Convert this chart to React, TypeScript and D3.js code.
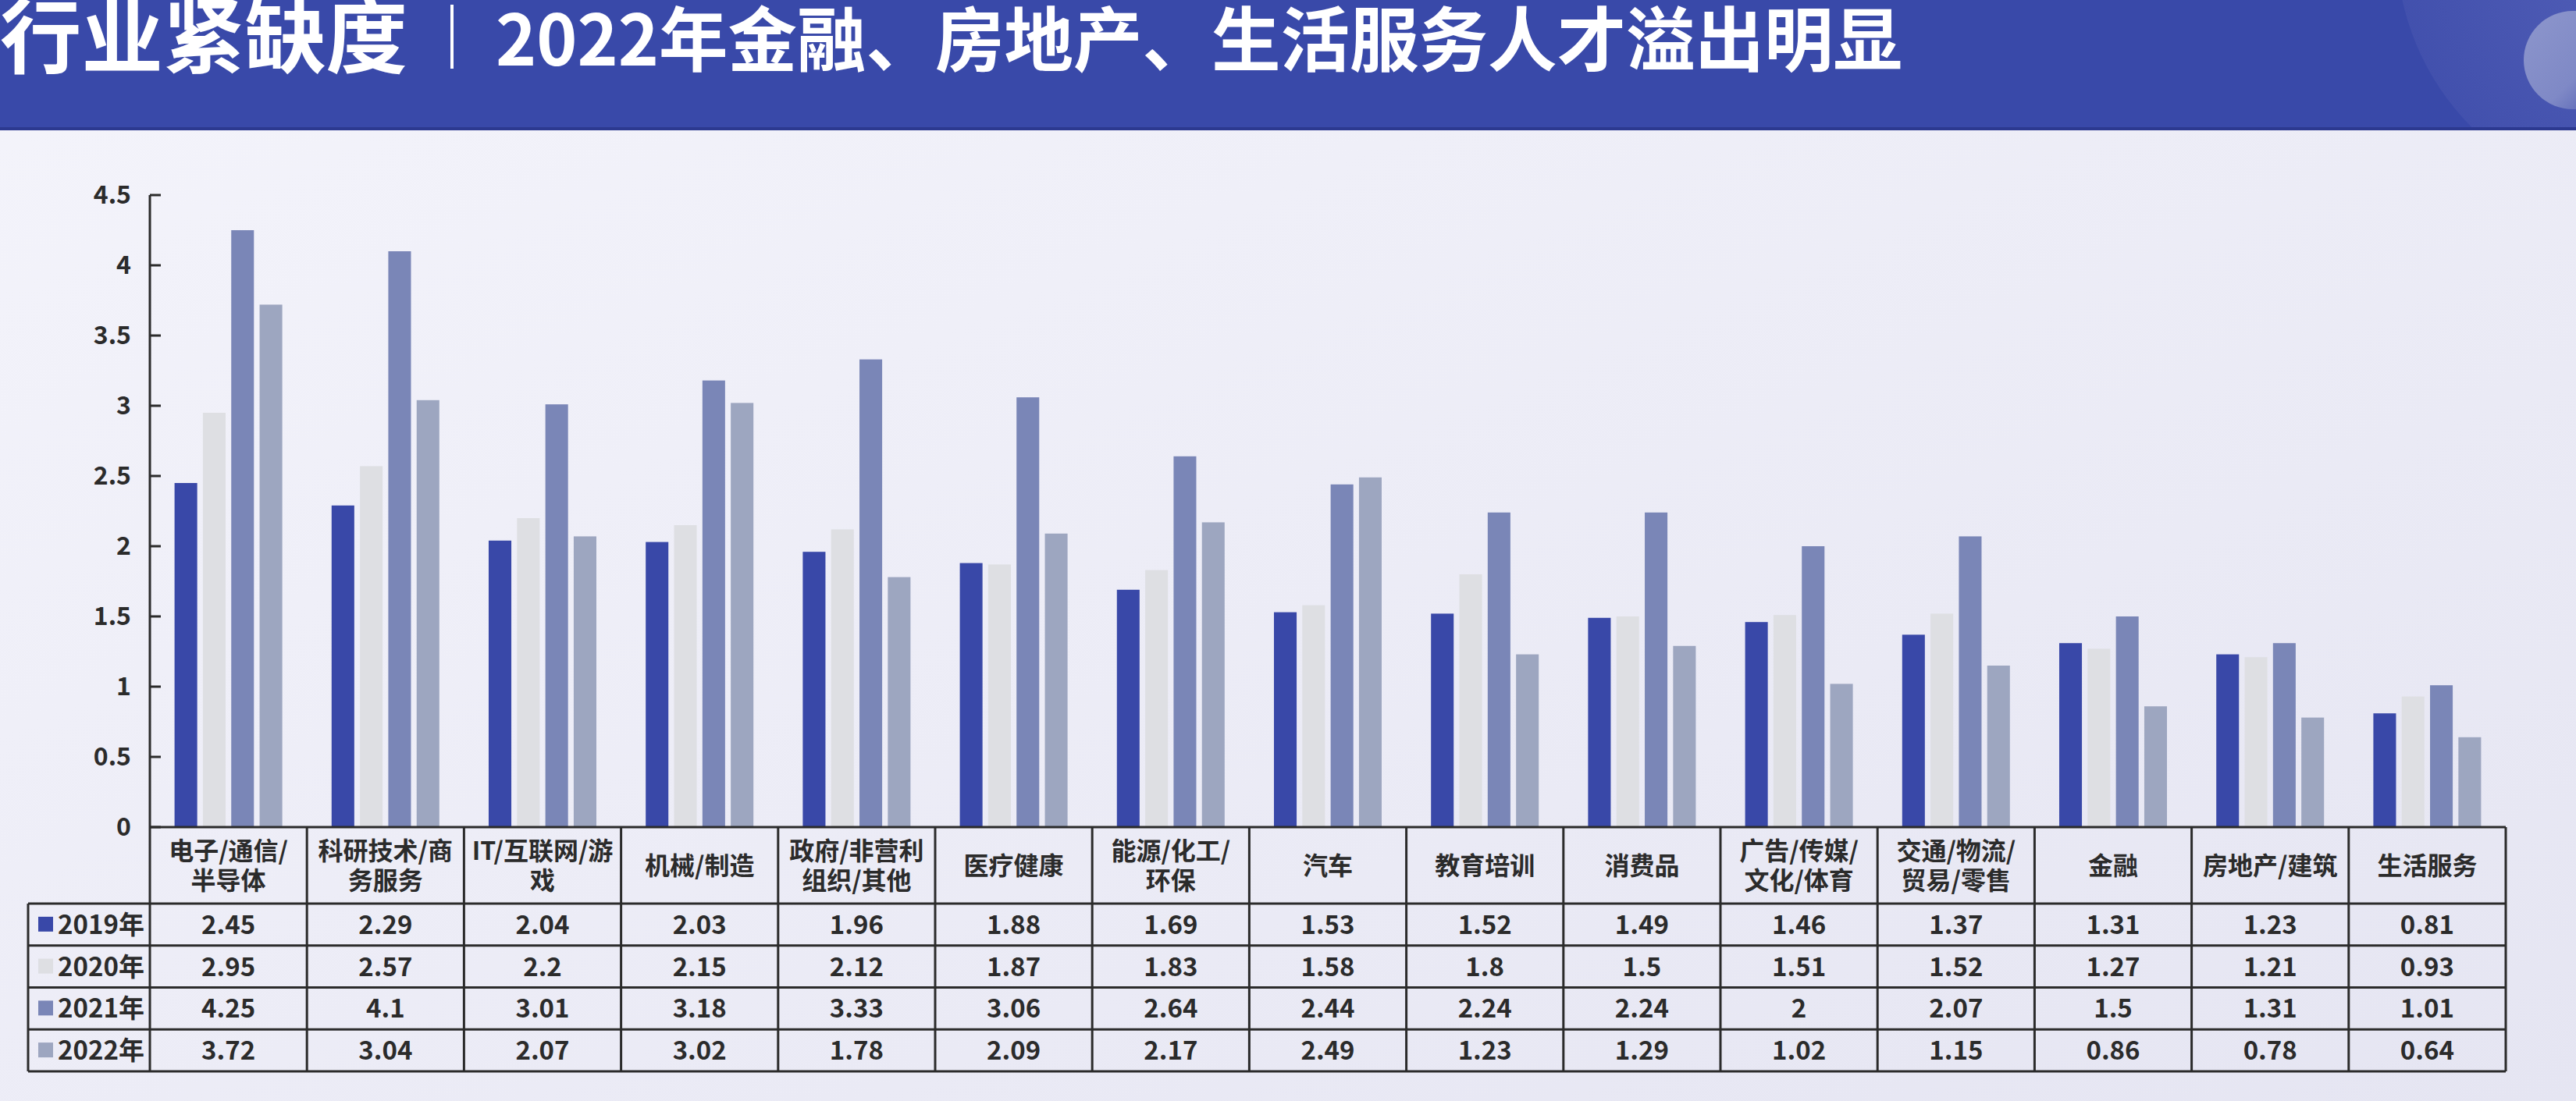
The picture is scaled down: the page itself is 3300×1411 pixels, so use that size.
import React from 'react';
import * as d3 from 'd3';

const categories = [
  ['电子/通信/', '半导体'],
  ['科研技术/商', '务服务'],
  ['IT/互联网/游', '戏'],
  ['机械/制造'],
  ['政府/非营利', '组织/其他'],
  ['医疗健康'],
  ['能源/化工/', '环保'],
  ['汽车'],
  ['教育培训'],
  ['消费品'],
  ['广告/传媒/', '文化/体育'],
  ['交通/物流/', '贸易/零售'],
  ['金融'],
  ['房地产/建筑'],
  ['生活服务'],
];

const seriesNames = ['2019年', '2020年', '2021年', '2022年'];
const seriesColors = ['#3948a8', '#dedfe3', '#7a86b7', '#9da6c0'];

const v2019 = [2.45, 2.29, 2.04, 2.03, 1.96, 1.88, 1.69, 1.53, 1.52, 1.49, 1.46, 1.37, 1.31, 1.23, 0.81];
const v2020 = [2.95, 2.57, 2.2, 2.15, 2.12, 1.87, 1.83, 1.58, 1.8, 1.5, 1.51, 1.52, 1.27, 1.21, 0.93];
const v2021 = [4.25, 4.1, 3.01, 3.18, 3.33, 3.06, 2.64, 2.44, 2.24, 2.24, 2, 2.07, 1.5, 1.31, 1.01];
const v2022 = [3.72, 3.04, 2.07, 3.02, 1.78, 2.09, 2.17, 2.49, 1.23, 1.29, 1.02, 1.15, 0.86, 0.78, 0.64];
const seriesValues = [v2019, v2020, v2021, v2022];

const yTicks = [0, 0.5, 1, 1.5, 2, 2.5, 3, 3.5, 4, 4.5];

const W = 3300;
const H = 1411;
const plotLeft = 192;
const plotRight = 3210;
const plotTop = 250;
const plotBottom = 1060;
const headerRowBottom = 1158;
const rowH = 53.75;
const legendLeft = 36;
const ink = '#2b2b2b';
const font = '"Noto Sans CJK SC", "Noto Sans", sans-serif';

export default function App() {
  const keys = categories.map(c => c.join(''));
  const x0 = d3.scaleBand().domain(keys).range([plotLeft, plotRight]);
  const x1 = d3.scaleBand()
    .domain(seriesNames)
    .range([0, x0.bandwidth()])
    .paddingInner(0.2)
    .paddingOuter(0.87);
  const y = d3.scaleLinear().domain([0, 4.5]).range([plotBottom, plotTop]);

  // header row + 4 data rows
  const rowLines = d3.range(5).map(i => headerRowBottom + i * rowH);

  return (
    <div>
      <style>{`body{margin:0}`}</style>
      <svg width={W} height={H} style={{ display: 'block' }} fontFamily={font}>
        <defs>
          <linearGradient id="bg" x1="0" y1="0" x2="1" y2="1">
            <stop offset="0%" stopColor="#f4f4fb" />
            <stop offset="100%" stopColor="#e5e5f2" />
          </linearGradient>
          <radialGradient id="bigGlow" cx="0.5" cy="0.5" r="0.5">
            <stop offset="0%" stopColor="#5763ba" />
            <stop offset="100%" stopColor="#4452ae" />
          </radialGradient>
          <linearGradient id="ball" x1="0" y1="0" x2="1" y2="1">
            <stop offset="0%" stopColor="#8d96cc" />
            <stop offset="60%" stopColor="#7f89c6" />
            <stop offset="100%" stopColor="#4654ae" />
          </linearGradient>
          <clipPath id="headerClip">
            <rect x={0} y={0} width={W} height={164} />
          </clipPath>
        </defs>

        <rect x={0} y={0} width={W} height={H} fill="url(#bg)" />

        {/* header band */}
        <rect x={0} y={0} width={W} height={164} fill="#3949a9" />
        <g clipPath="url(#headerClip)">
          <circle cx={3400} cy={-70} r={330} fill="url(#bigGlow)" opacity={0.85} />
          <circle cx={3296} cy={77} r={63} fill="url(#ball)" />
        </g>
        <rect x={0} y={163} width={W} height={4} fill="#2c3990" />

        <text x={0} y={86} fill="#fff" fontSize={104} fontWeight={700}
          textLength={522} lengthAdjust="spacingAndGlyphs">行业紧缺度</text>
        <line x1={579} x2={579} y1={6} y2={88} stroke="#fff" strokeWidth={4} />
        <text x={635} y={84} fill="#fff" fontSize={90} fontWeight={700}
          textLength={1802} lengthAdjust="spacingAndGlyphs">2022年金融、房地产、生活服务人才溢出明显</text>

        {/* bars */}
        {seriesValues.map((vals, si) => (
          <g key={seriesNames[si]} fill={seriesColors[si]}>
            {vals.map((v, ci) => (
              <rect key={ci}
                x={(x0(keys[ci]) ?? 0) + (x1(seriesNames[si]) ?? 0)}
                y={y(v)}
                width={x1.bandwidth()}
                height={y(0) - y(v)} />
            ))}
          </g>
        ))}

        {/* y axis */}
        <line x1={plotLeft} x2={plotLeft} y1={plotTop} y2={plotBottom} stroke={ink} strokeWidth={3} />
        {yTicks.map(t => (
          <g key={t}>
            <line x1={plotLeft} x2={plotLeft + 14} y1={y(t)} y2={y(t)} stroke={ink} strokeWidth={3} />
            <text x={168} y={y(t)} dy="0.35em" textAnchor="end" fontSize={32} fontWeight={700} fill={ink}>
              {String(t)}
            </text>
          </g>
        ))}

        {/* data table */}
        <g stroke={ink} strokeWidth={3}>
          <line x1={plotLeft} x2={plotRight} y1={plotBottom} y2={plotBottom} />
          {rowLines.map((ry, i) => (
            <line key={i} x1={legendLeft} x2={plotRight} y1={ry} y2={ry} />
          ))}
          <line x1={legendLeft} x2={legendLeft} y1={headerRowBottom} y2={rowLines[4]} />
          {keys.map(k => (
            <line key={k} x1={x0(k)} x2={x0(k)} y1={plotBottom} y2={rowLines[4]} />
          ))}
          <line x1={plotRight} x2={plotRight} y1={plotBottom} y2={rowLines[4]} />
        </g>

        {categories.map((lines, ci) => {
          const cx = (x0(keys[ci]) ?? 0) + x0.bandwidth() / 2;
          const mid = (plotBottom + headerRowBottom) / 2;
          const lh = 38;
          return (
            <text key={ci} textAnchor="middle" fontSize={32} fontWeight={700} fill={ink}>
              {lines.map((ln, li) => (
                <tspan key={li} x={cx} y={mid + (li - (lines.length - 1) / 2) * lh} dy="0.36em">{ln}</tspan>
              ))}
            </text>
          );
        })}

        {seriesNames.map((name, si) => {
          const cy = headerRowBottom + si * rowH + rowH / 2;
          return (
            <g key={name}>
              <rect x={49} y={cy - 10} width={19} height={19} fill={seriesColors[si]} />
              <text x={74} y={cy} dy="0.36em" fontSize={33} fontWeight={700} fill={ink}>{name}</text>
              {seriesValues[si].map((v, ci) => (
                <text key={ci} x={(x0(keys[ci]) ?? 0) + x0.bandwidth() / 2} y={cy} dy="0.36em"
                  textAnchor="middle" fontSize={33} fontWeight={700} fill={ink}>
                  {String(v)}
                </text>
              ))}
            </g>
          );
        })}
      </svg>
    </div>
  );
}
